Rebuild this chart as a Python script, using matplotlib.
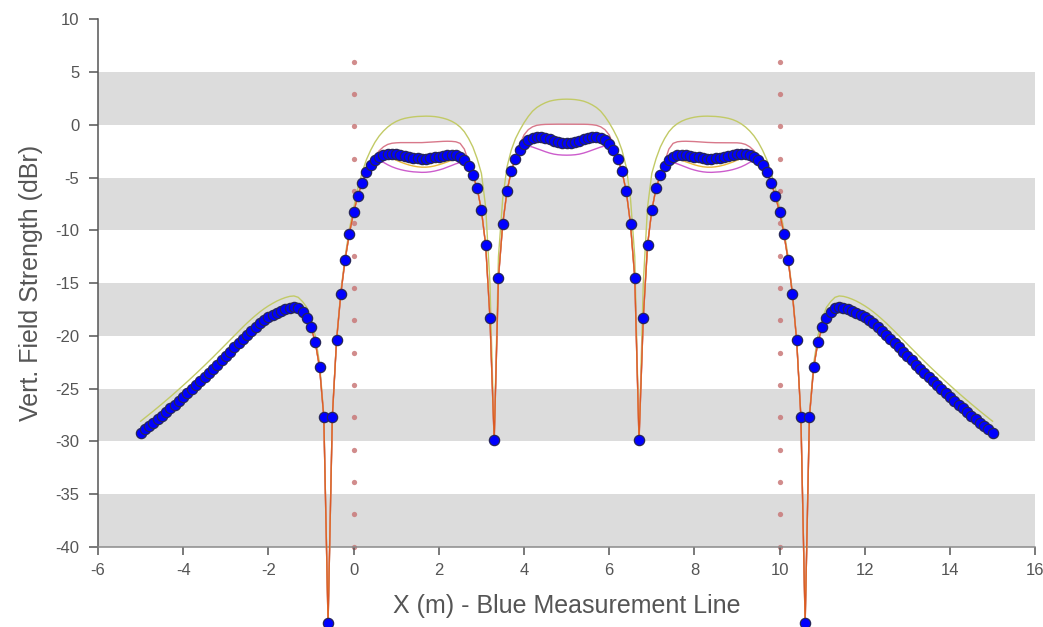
import numpy as np
import matplotlib
matplotlib.use("Agg")
import matplotlib.pyplot as plt

plt.rcParams['font.family'] = ['Liberation Sans', 'DejaVu Sans']
plt.rcParams['axes.unicode_minus'] = False

# measurement line sampled every 0.1 m from -5 to 15
X_START, X_END, N_PTS = -5.0, 15.0, 201

# blue measured points (dBr), split in three parts
blue_left = [
    -29.20, -28.88, -28.56, -28.23, -27.90, -27.56, -27.22, -26.87, -26.52, -26.16,
    -25.80, -25.43, -25.06, -24.68, -24.30, -23.91, -23.52, -23.12, -22.72, -22.31,
    -21.90, -21.49, -21.08, -20.67, -20.27, -19.88, -19.51, -19.16, -18.83, -18.53,
    -18.26, -18.02, -17.80, -17.62, -17.47, -17.36, -17.31, -17.40, -17.72, -18.30,
    -19.20, -20.60, -23.00, -27.70, -47.20, -27.70, -20.40, -16.00, -12.80, -10.30,
]
blue_mid = [
    -8.30, -6.70, -5.50, -4.50, -3.84, -3.34, -3.02, -2.83, -2.74, -2.72,
    -2.76, -2.83, -2.92, -3.02, -3.10, -3.16, -3.19, -3.19, -3.15, -3.08,
    -3.00, -2.92, -2.87, -2.85, -2.88, -3.00, -3.30, -3.90, -4.76, -6.00,
    -8.10, -11.40, -18.30, -29.90, -14.50, -9.40, -6.30, -4.40, -3.20, -2.40,
    -1.80, -1.42, -1.20, -1.13, -1.15, -1.25, -1.38, -1.52, -1.63, -1.71,
    -1.74,
    -1.71, -1.63, -1.52, -1.38, -1.25, -1.15, -1.13, -1.20, -1.42, -1.80,
    -2.40, -3.20, -4.40, -6.30, -9.40, -14.50, -29.90, -18.30, -11.40, -8.10,
    -6.00, -4.76, -3.90, -3.30, -3.00, -2.88, -2.85, -2.87, -2.92, -3.00,
    -3.08, -3.15, -3.19, -3.19, -3.16, -3.10, -3.02, -2.92, -2.83, -2.76,
    -2.72, -2.74, -2.83, -3.02, -3.34, -3.84, -4.50, -5.50, -6.70, -8.30,
]
blue_right = [
    -10.30, -12.80, -16.00, -20.40, -27.70, -47.20, -27.70, -23.00, -20.60, -19.20,
    -18.30, -17.72, -17.40, -17.31, -17.36, -17.47, -17.62, -17.80, -18.02, -18.26,
    -18.53, -18.83, -19.16, -19.51, -19.88, -20.27, -20.67, -21.08, -21.49, -21.90,
    -22.31, -22.72, -23.12, -23.52, -23.91, -24.30, -24.68, -25.06, -25.43, -25.80,
    -26.16, -26.52, -26.87, -27.22, -27.56, -27.90, -28.23, -28.56, -28.88, -29.20,
]

green_vals = [
    -28.10, -27.78, -27.46, -27.13, -26.80, -26.46, -26.12, -25.77, -25.42, -25.06,
    -24.70, -24.33, -23.96, -23.58, -23.20, -22.81, -22.42, -22.02, -21.62, -21.21,
    -20.80, -20.39, -19.98, -19.57, -19.17, -18.78, -18.41, -18.06, -17.73, -17.43,
    -17.16, -16.92, -16.70, -16.52, -16.37, -16.26, -16.22, -16.35, -16.75, -17.30,
    -18.40, -20.00, -22.60, -27.50, -47.20, -27.60, -20.30, -15.80, -12.50, -9.90,
    -7.90, -6.00, -4.50, -3.30, -2.40, -1.65, -1.05, -0.58, -0.20, 0.10,
    0.33, 0.50, 0.62, 0.70, 0.76, 0.80, 0.82, 0.83, 0.82, 0.79,
    0.73, 0.64, 0.52, 0.35, 0.12, -0.20, -0.65, -1.30, -2.10, -3.20,
    -4.60, -7.80, -15.00, -29.90, -12.50, -7.00, -4.00, -2.40, -1.30, -0.50,
    0.20, 0.80, 1.30, 1.65, 1.90, 2.10, 2.25, 2.34, 2.40, 2.43,
    2.44,
    2.43, 2.40, 2.34, 2.25, 2.10, 1.90, 1.65, 1.30, 0.80, 0.20,
    -0.50, -1.30, -2.40, -4.00, -7.00, -12.50, -29.90, -15.00, -7.80, -4.60,
    -3.20, -2.10, -1.30, -0.65, -0.20, 0.12, 0.35, 0.52, 0.64, 0.73,
    0.79, 0.82, 0.83, 0.82, 0.80, 0.76, 0.70, 0.62, 0.50, 0.33,
    0.10, -0.20, -0.58, -1.05, -1.65, -2.40, -3.30, -4.50, -6.00, -7.90,
    -9.90, -12.50, -15.80, -20.30, -27.60, -47.20, -27.50, -22.60, -20.00, -18.40,
    -17.30, -16.75, -16.35, -16.22, -16.26, -16.37, -16.52, -16.70, -16.92, -17.16,
    -17.43, -17.73, -18.06, -18.41, -18.78, -19.17, -19.57, -19.98, -20.39, -20.80,
    -21.21, -21.62, -22.02, -22.42, -22.81, -23.20, -23.58, -23.96, -24.33, -24.70,
    -25.06, -25.42, -25.77, -26.12, -26.46, -26.80, -27.13, -27.46, -27.78, -28.10,
]

# the other curves only differ from the blue points between x=0 and x=10
pink_mid = [
    -8.30, -6.70, -5.50, -4.50, -3.60, -3.00, -2.45, -2.08, -1.85, -1.74,
    -1.70, -1.68, -1.68, -1.69, -1.69, -1.69, -1.68, -1.66, -1.64, -1.61,
    -1.58, -1.56, -1.55, -1.56, -1.60, -1.75, -2.30, -3.50, -4.76, -6.00,
    -8.10, -11.40, -18.30, -29.90, -14.50, -9.40, -6.30, -4.40, -3.10, -1.90,
    -0.95, -0.45, -0.18, -0.04, 0.02, 0.05, 0.06, 0.07, 0.07, 0.07,
    0.07,
    0.07, 0.07, 0.07, 0.06, 0.05, 0.02, -0.04, -0.18, -0.45, -0.95,
    -1.90, -3.10, -4.40, -6.30, -9.40, -14.50, -29.90, -18.30, -11.40, -8.10,
    -6.00, -4.76, -3.50, -2.30, -1.75, -1.60, -1.56, -1.55, -1.56, -1.58,
    -1.61, -1.64, -1.66, -1.68, -1.69, -1.69, -1.69, -1.68, -1.68, -1.70,
    -1.74, -1.85, -2.08, -2.45, -3.00, -3.60, -4.50, -5.50, -6.70, -8.30,
]
magenta_mid = [
    -8.30, -6.70, -5.50, -4.50, -3.84, -3.45, -3.35, -3.55, -3.78, -3.97,
    -4.12, -4.24, -4.33, -4.40, -4.45, -4.48, -4.50, -4.49, -4.45, -4.38,
    -4.28, -4.16, -4.01, -3.85, -3.69, -3.57, -3.52, -3.95, -4.76, -6.00,
    -8.10, -11.40, -18.30, -29.90, -14.50, -9.40, -6.30, -4.40, -3.20, -2.50,
    -2.00, -2.00, -2.10, -2.24, -2.39, -2.54, -2.67, -2.77, -2.83, -2.86,
    -2.87,
    -2.86, -2.83, -2.77, -2.67, -2.54, -2.39, -2.24, -2.10, -2.00, -2.00,
    -2.50, -3.20, -4.40, -6.30, -9.40, -14.50, -29.90, -18.30, -11.40, -8.10,
    -6.00, -4.76, -3.95, -3.52, -3.57, -3.69, -3.85, -4.01, -4.16, -4.28,
    -4.38, -4.45, -4.49, -4.50, -4.48, -4.45, -4.40, -4.33, -4.24, -4.12,
    -3.97, -3.78, -3.55, -3.35, -3.45, -3.84, -4.50, -5.50, -6.70, -8.30,
]
orange_mid = [
    -8.30, -6.70, -5.50, -4.50, -3.84, -3.34, -3.08, -3.00, -3.05, -3.18,
    -3.35, -3.52, -3.67, -3.80, -3.90, -3.97, -4.01, -4.01, -3.97, -3.89,
    -3.78, -3.65, -3.50, -3.36, -3.24, -3.20, -3.40, -3.92, -4.76, -6.00,
    -8.10, -11.40, -18.30, -29.90, -14.50, -9.40, -6.30, -4.40, -3.20, -2.40,
    -1.84, -1.52, -1.38, -1.37, -1.46, -1.62, -1.79, -1.95, -2.08, -2.17,
    -2.20,
    -2.17, -2.08, -1.95, -1.79, -1.62, -1.46, -1.37, -1.38, -1.52, -1.84,
    -2.40, -3.20, -4.40, -6.30, -9.40, -14.50, -29.90, -18.30, -11.40, -8.10,
    -6.00, -4.76, -3.92, -3.40, -3.20, -3.24, -3.36, -3.50, -3.65, -3.78,
    -3.89, -3.97, -4.01, -4.01, -3.97, -3.90, -3.80, -3.67, -3.52, -3.35,
    -3.18, -3.05, -3.00, -3.08, -3.34, -3.84, -4.50, -5.50, -6.70, -8.30,
]

# loop wire positions, shown as dotted verticals
wire_x = [0, 10]
wire_dots = [6.0, 2.93, -0.13, -3.2, -6.27, -9.33, -12.4, -15.47, -18.53,
             -21.6, -24.67, -27.73, -30.8, -33.87, -36.93, -40.0]

bands = [(0, 5), (-10, -5), (-20, -15), (-30, -25), (-40, -35)]

x = np.linspace(X_START, X_END, N_PTS)
blue = np.array(blue_left + blue_mid + blue_right)
green = np.array(green_vals)
pink = np.array(blue_left + pink_mid + blue_right)
magenta = np.array(blue_left + magenta_mid + blue_right)
orange = np.array(blue_left + orange_mid + blue_right)

fig = plt.figure(figsize=(10.43, 6.27), dpi=100)
ax = fig.add_axes([0.094, 0.128, 0.8985, 0.841])

for lo, hi in bands:
    ax.axhspan(lo, hi, color='#dcdcdc', lw=0, zorder=0)

for wx in wire_x:
    ax.plot([wx] * len(wire_dots), wire_dots, 'o', ms=3.8, color='#c97878',
            alpha=0.85, mec='none', zorder=1, clip_on=False)

ax.plot(x, green, color='#c2ca66', lw=1.0, zorder=2, clip_on=False)
ax.plot(x, pink, color='#d8788a', lw=1.0, zorder=2, clip_on=False)
ax.plot(x, magenta, color='#cc5ccc', lw=1.0, zorder=2, clip_on=False)
ax.plot(x, orange, color='#e8b83a', lw=1.0, zorder=3, clip_on=False)
ax.plot(x, blue, color='#d84020', lw=0.8, alpha=0.8, zorder=3, clip_on=False)
ax.plot(x, blue, 'o', ms=7.4, color='#0000ff', mec='#26265a', mew=0.9,
        zorder=4, clip_on=False)

ax.set_xlim(-6, 16)
ax.set_ylim(-40, 10)
ax.set_xticks(range(-6, 17, 2))
ax.set_yticks(range(-40, 11, 5))

for side in ['top', 'right']:
    ax.spines[side].set_visible(False)
ax.spines['left'].set_color('#555555')
ax.spines['bottom'].set_color('#8a8a8a')
ax.spines['left'].set_linewidth(1.1)
ax.spines['bottom'].set_linewidth(1.1)
ax.tick_params(axis='y', length=6.5, width=1.1, color='#555555',
               labelcolor='#555555', labelsize=12, pad=7)
ax.tick_params(axis='x', length=5.5, width=1.1, color='#555555',
               labelcolor='#555555', labelsize=12, pad=6)

ax.set_xlabel('X (m) - Blue Measurement Line', fontsize=18, color='#555555',
              labelpad=12)
ax.set_ylabel('Vert. Field Strength (dBr)', fontsize=18, color='#555555',
              labelpad=9)

fig.savefig('out.png', dpi=100)
